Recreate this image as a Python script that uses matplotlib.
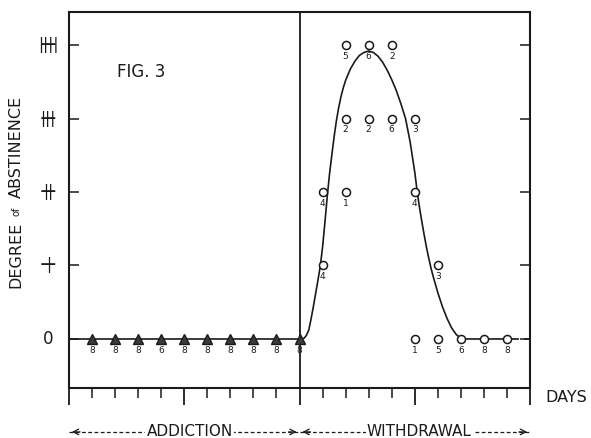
import matplotlib
matplotlib.use("Agg")
import matplotlib.pyplot as plt
import matplotlib.transforms as mtransforms

# addiction phase: one filled triangle per day, all at degree 0
add_days = [1, 2, 3, 4, 5, 6, 7, 8, 9, 10]
add_deg = [0, 0, 0, 0, 0, 0, 0, 0, 0, 0]
add_n = ["8", "8", "8", "6", "8", "8", "8", "8", "8", "8"]

# withdrawal phase: open circles, number of animals under each
wd_days = [11, 11, 12, 12, 12, 13, 13, 14, 14, 15, 15, 15, 16, 16, 17, 18, 19]
wd_deg = [1, 2, 2, 3, 4, 3, 4, 3, 4, 3, 2, 0, 1, 0, 0, 0, 0]
wd_n = ["4", "4", "1", "2", "5", "2", "6", "6", "2", "3", "4", "1", "3", "5", "6", "8", "8"]

# hand-drawn curve
curve_x = [10.0, 10.1, 10.2, 10.3, 10.4, 10.5, 10.6, 10.7, 10.8, 10.9, 11.0, 11.1,
           11.2, 11.3, 11.4, 11.5, 11.6, 11.7, 11.8, 11.9, 12.0, 12.2, 12.4, 12.6,
           12.8, 13.0, 13.2, 13.4, 13.6, 13.8, 14.0, 14.2, 14.4, 14.6, 14.8, 15.0,
           15.1, 15.2, 15.3, 15.4, 15.5, 15.6, 15.7, 15.8, 16.0, 16.2, 16.4, 16.6,
           16.8, 17.0, 17.2, 19.3]
curve_y = [0.0, 0.0, 0.01, 0.05, 0.12, 0.27, 0.44, 0.62, 0.8, 0.99, 1.25, 1.58,
           1.93, 2.24, 2.5, 2.75, 2.97, 3.15, 3.3, 3.42, 3.52, 3.67, 3.78, 3.86,
           3.9, 3.92, 3.9, 3.85, 3.77, 3.66, 3.53, 3.38, 3.2, 3.0, 2.68, 2.27,
           2.02, 1.8, 1.61, 1.43, 1.26, 1.11, 0.97, 0.85, 0.63, 0.44, 0.28, 0.15,
           0.06, 0.01, 0.0, 0.0]

deg_levels = [0, 1, 2, 3, 4]
deg_bars = [0, 1, 2, 3, 4]  # number of vertical strokes in the cross sign

ink = "#1a1a1a"

fig = plt.figure(figsize=(5.91, 4.38), dpi=100)
ax = fig.add_axes([0.1168, 0.1142, 0.78, 0.8584])
ax.set_xlim(0, 20)
ax.set_ylim(-0.667, 4.45)

for s in ax.spines.values():
    s.set_linewidth(1.5)
    s.set_color(ink)

# base line during addiction + the curve
ax.plot([0, 10], [0, 0], color=ink, lw=1.2)
ax.plot(curve_x, curve_y, color=ink, lw=1.2, solid_joinstyle="round")
ax.plot([19.3, 20], [0, 0], color=ink, lw=1.2, ls=(0, (3, 3)))
ax.axvline(10, color=ink, lw=1.3)

ax.plot(add_days, add_deg, ls="none", marker="^", ms=7.5, color="#3a3a3a", mec=ink)
ax.plot(wd_days, wd_deg, ls="none", marker="o", ms=5.8, mfc="white", mec=ink, mew=1.1)

for x, y, n in zip(add_days + wd_days, add_deg + wd_deg, add_n + wd_n):
    ax.annotate(n, (x, y), xytext=(0, -8), textcoords="offset points",
                ha="center", va="center", fontsize=6.5, color=ink)

# ticks
ax.set_xticks([0, 5, 10, 15, 20])
ax.set_xticks([d for d in range(1, 20) if d % 5 != 0], minor=True)
ax.tick_params(axis="x", which="major", direction="out", length=12, width=1.3,
               labelbottom=False, color=ink)
ax.tick_params(axis="x", which="minor", direction="out", length=7, width=1.1, color=ink)
ax.set_yticks(deg_levels)
ax.tick_params(axis="y", direction="in", length=7, width=1.1, left=True, right=True,
               labelleft=False, color=ink)

# y tick labels as cross signs
trans = mtransforms.blended_transform_factory(ax.transAxes, ax.transData)
for lvl, nb in zip(deg_levels, deg_bars):
    if nb == 0:
        ax.text(-0.045, lvl, "0", transform=trans, ha="center", va="center",
                fontsize=12, color=ink)
    else:
        ax.text(-0.045, lvl, "|" * nb, transform=trans, ha="center", va="center",
                fontsize=11, color=ink)
        ax.text(-0.045, lvl, "\u2212", transform=trans, ha="center", va="center",
                fontsize=16, color=ink)

# y axis title
fig.text(16 / 591, 1 - 255 / 438, "DEGREE", rotation=90, ha="center", va="center",
         fontsize=11.5, color=ink)
fig.text(17 / 591, 1 - 211 / 438, "of", rotation=90, ha="center", va="center",
         fontsize=7, color=ink)
fig.text(16 / 591, 1 - 147 / 438, "ABSTINENCE", rotation=90, ha="center", va="center",
         fontsize=11.5, color=ink)

ax.text(2.1, 3.63, "FIG. 3", fontsize=12, ha="left", va="center", color=ink)
fig.text(545 / 591, 1 - 398 / 438, "DAYS", fontsize=11.5, ha="left", va="center", color=ink)

# phase arrows under the axis
ya = -1.265
for x0, x1, label, xc in [(0, 10, "ADDICTION", 5.24), (10, 20, "WITHDRAWAL", 15.2)]:
    ax.plot([x0, x1], [ya, ya], color=ink, lw=0.9, ls=(0, (3, 2)), clip_on=False)
    ax.annotate("", xy=(x0, ya), xytext=(x0 + 0.6, ya),
                arrowprops=dict(arrowstyle="->", color=ink, lw=0.9), annotation_clip=False)
    ax.annotate("", xy=(x1, ya), xytext=(x1 - 0.6, ya),
                arrowprops=dict(arrowstyle="->", color=ink, lw=0.9), annotation_clip=False)
    ax.text(xc, ya, label, ha="center", va="center", fontsize=11, color=ink,
            bbox=dict(facecolor="white", edgecolor="none", pad=1), clip_on=False)

fig.savefig("out.png", dpi=100)
